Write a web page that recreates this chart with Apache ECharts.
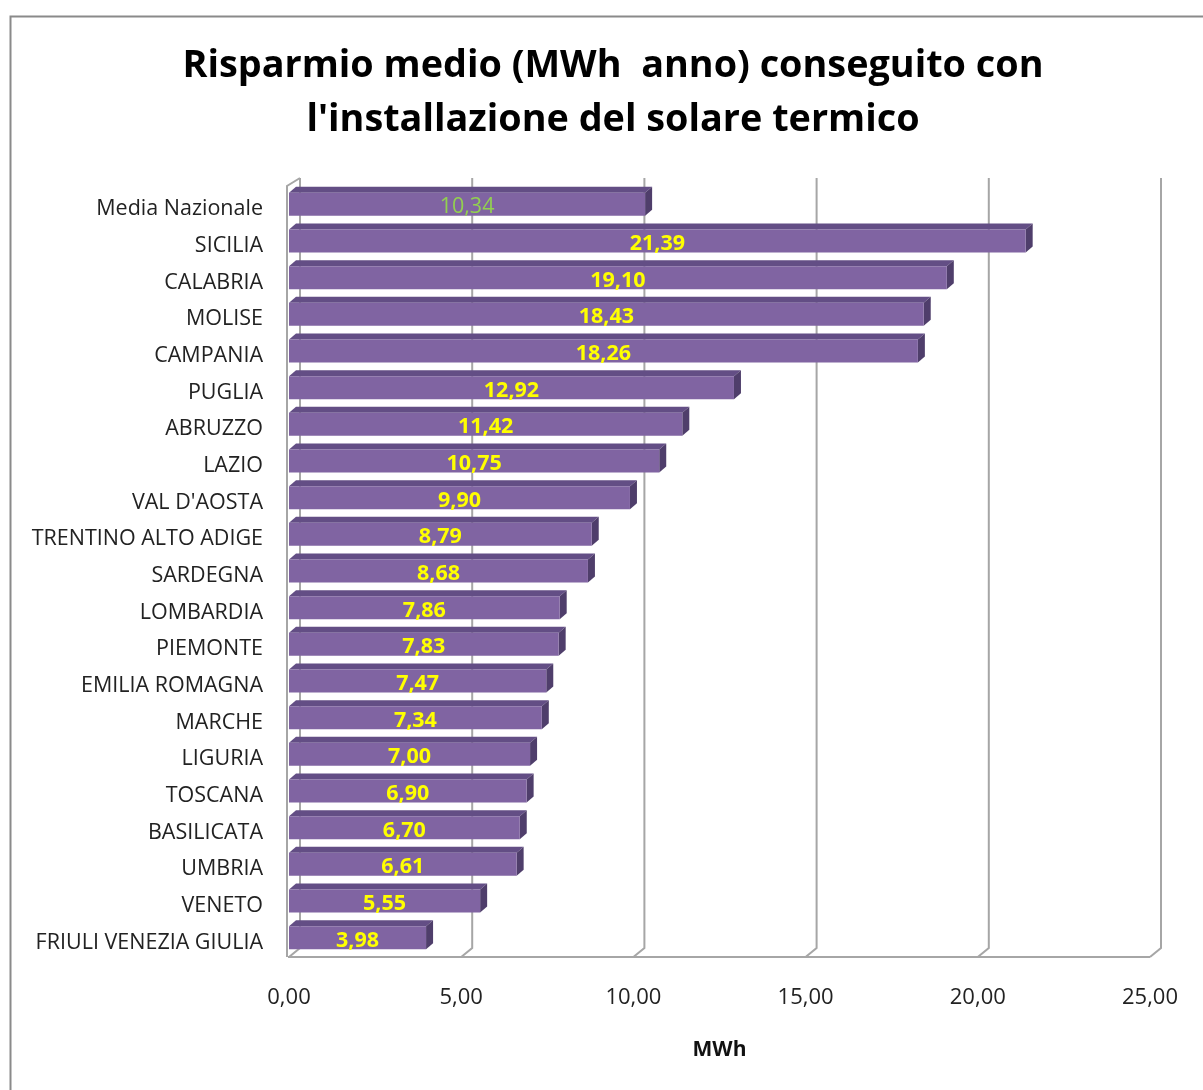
<!DOCTYPE html>
<html>
<head>
<meta charset="utf-8">
<script src="https://cdn.jsdelivr.net/npm/echarts@6/dist/echarts.min.js"></script>
<style>
html,body{margin:0;padding:0;background:#fff;}
#chart{width:1203px;height:1090px;}
</style>
</head>
<body>
<div id="chart"></div>
<script>
// ---- data ----
const categories = ["Media Nazionale","SICILIA","CALABRIA","MOLISE","CAMPANIA","PUGLIA","ABRUZZO","LAZIO","VAL D'AOSTA","TRENTINO ALTO ADIGE","SARDEGNA","LOMBARDIA","PIEMONTE","EMILIA ROMAGNA","MARCHE","LIGURIA","TOSCANA","BASILICATA","UMBRIA","VENETO","FRIULI VENEZIA GIULIA"];
const values = [10.34,21.39,19.10,18.43,18.26,12.92,11.42,10.75,9.90,8.79,8.68,7.86,7.83,7.47,7.34,7.00,6.90,6.70,6.61,5.55,3.98];
const xTicks = [0,5,10,15,20,25];
const titleLines = ["Risparmio medio (MWh  anno) conseguito con","l'installazione del solare termico"];
const xAxisName = "MWh";

const FONT = "'Open Sans', sans-serif";
const BAR_H = 23, BDX = 7, BDY = 6;   // bar depth
const WDX = 11, WDY = 9;             // wall depth
const fmt = v => v.toFixed(2).replace('.', ',');

const chart = echarts.init(document.getElementById('chart'), null, {renderer:'canvas'});

function renderBar(params, api) {
  const v = api.value(0), i = api.value(1);
  const p0 = api.coord([0, i]);
  const p1 = api.coord([v, i]);
  const x0 = p0[0], x1 = p1[0], cy = p0[1] - 1;
  const top = cy - BAR_H / 2, bot = cy + BAR_H / 2;
  const isAvg = i === 0;
  return {
    type: 'group',
    children: [
      {type:'polygon', shape:{points:[[x0,top],[x0+BDX,top-BDY],[x1+BDX,top-BDY],[x1,top]]}, style:{fill:'#634e85'}},
      {type:'polygon', shape:{points:[[x1,top],[x1+BDX,top-BDY],[x1+BDX,bot-BDY],[x1,bot]]}, style:{fill:'#4f3e6b'}},
      {type:'rect', shape:{x:x0, y:top, width:x1-x0, height:BAR_H}, style:{fill:'#8064a2'}},
      {type:'text', x:(x0+x1)/2, y:cy+3, style:{
        text: fmt(v), align:'center', verticalAlign:'middle',
        fill: isAvg ? '#92d050' : '#ffff00',
        font: (isAvg ? 'normal 21.5px ' : 'bold 21.5px ') + FONT
      }}
    ]
  };
}

function renderWall(params, api) {
  const cs = params.coordSys;
  const v = api.value(0);
  const x = api.coord([v, 0])[0];
  const floorY = cs.y + cs.height;
  const topY = cs.y - WDY;
  const children = [
    {type:'polyline', shape:{points:[[x,floorY],[x+WDX,floorY-WDY],[x+WDX,topY]]},
     style:{stroke:'#a6a6a6', lineWidth:2, fill:null}}
  ];
  if (params.dataIndex === 0) {
    const xe = api.coord([xTicks[xTicks.length-1], 0])[0];
    children.push({type:'polyline', shape:{points:[[x-1,floorY],[xe,floorY]]}, style:{stroke:'#a6a6a6', lineWidth:2, fill:null}});
    children.push({type:'polyline', shape:{points:[[x+WDX,topY],[x-2,topY+WDY-1],[x-2,floorY]]}, style:{stroke:'#a6a6a6', lineWidth:2, fill:null}});
  }
  return {type:'group', children};
}

const option = {
  backgroundColor: '#ffffff',
  animation: false,
  title: {
    text: titleLines.join('\n'),
    left: 608, top: 34, textAlign: 'center',
    textStyle: {fontFamily: FONT, fontWeight: 'bold', fontSize: 37.8, color: '#000', lineHeight: 54}
  },
  graphic: [
    {type:'rect', left:8, top:14, shape:{width:1300, height:1200}, style:{fill:null, stroke:'#8a8a8a', lineWidth:2}, z:-10}
  ],
  grid: {left: 289, right: 53, top: 187, bottom: 133, containLabel: false},
  xAxis: {
    type: 'value', min: 0, max: 25, interval: 5,
    axisLine: {show:false}, axisTick:{show:false}, splitLine:{show:false},
    axisLabel: {formatter: v => fmt(v), fontFamily: FONT, fontSize: 22, color: '#222', margin: 30},
    name: xAxisName, nameLocation: 'middle', nameGap: 83,
    nameTextStyle: {fontFamily: FONT, fontWeight:'bold', fontSize: 21, color:'#111'}
  },
  yAxis: {
    type: 'category', data: categories, inverse: true,
    axisLine:{show:false}, axisTick:{show:false}, splitLine:{show:false},
    axisLabel: {
      margin: 26,
      formatter: v => '{a|' + v + '}',
      rich: {a: {fontFamily: FONT, fontSize: 21.5, color: '#222', padding: [8, 0, 0, 0]}}
    }
  },
  series: [
    {type:'custom', renderItem: renderWall, data: xTicks.map(t => [t]), encode:{x:0}, z:1, silent:true},
    {type:'custom', renderItem: renderBar, data: values.map((v,i) => [v,i]), encode:{x:0, y:1}, z:2}
  ]
};
chart.setOption(option);
</script>
</body>
</html>
